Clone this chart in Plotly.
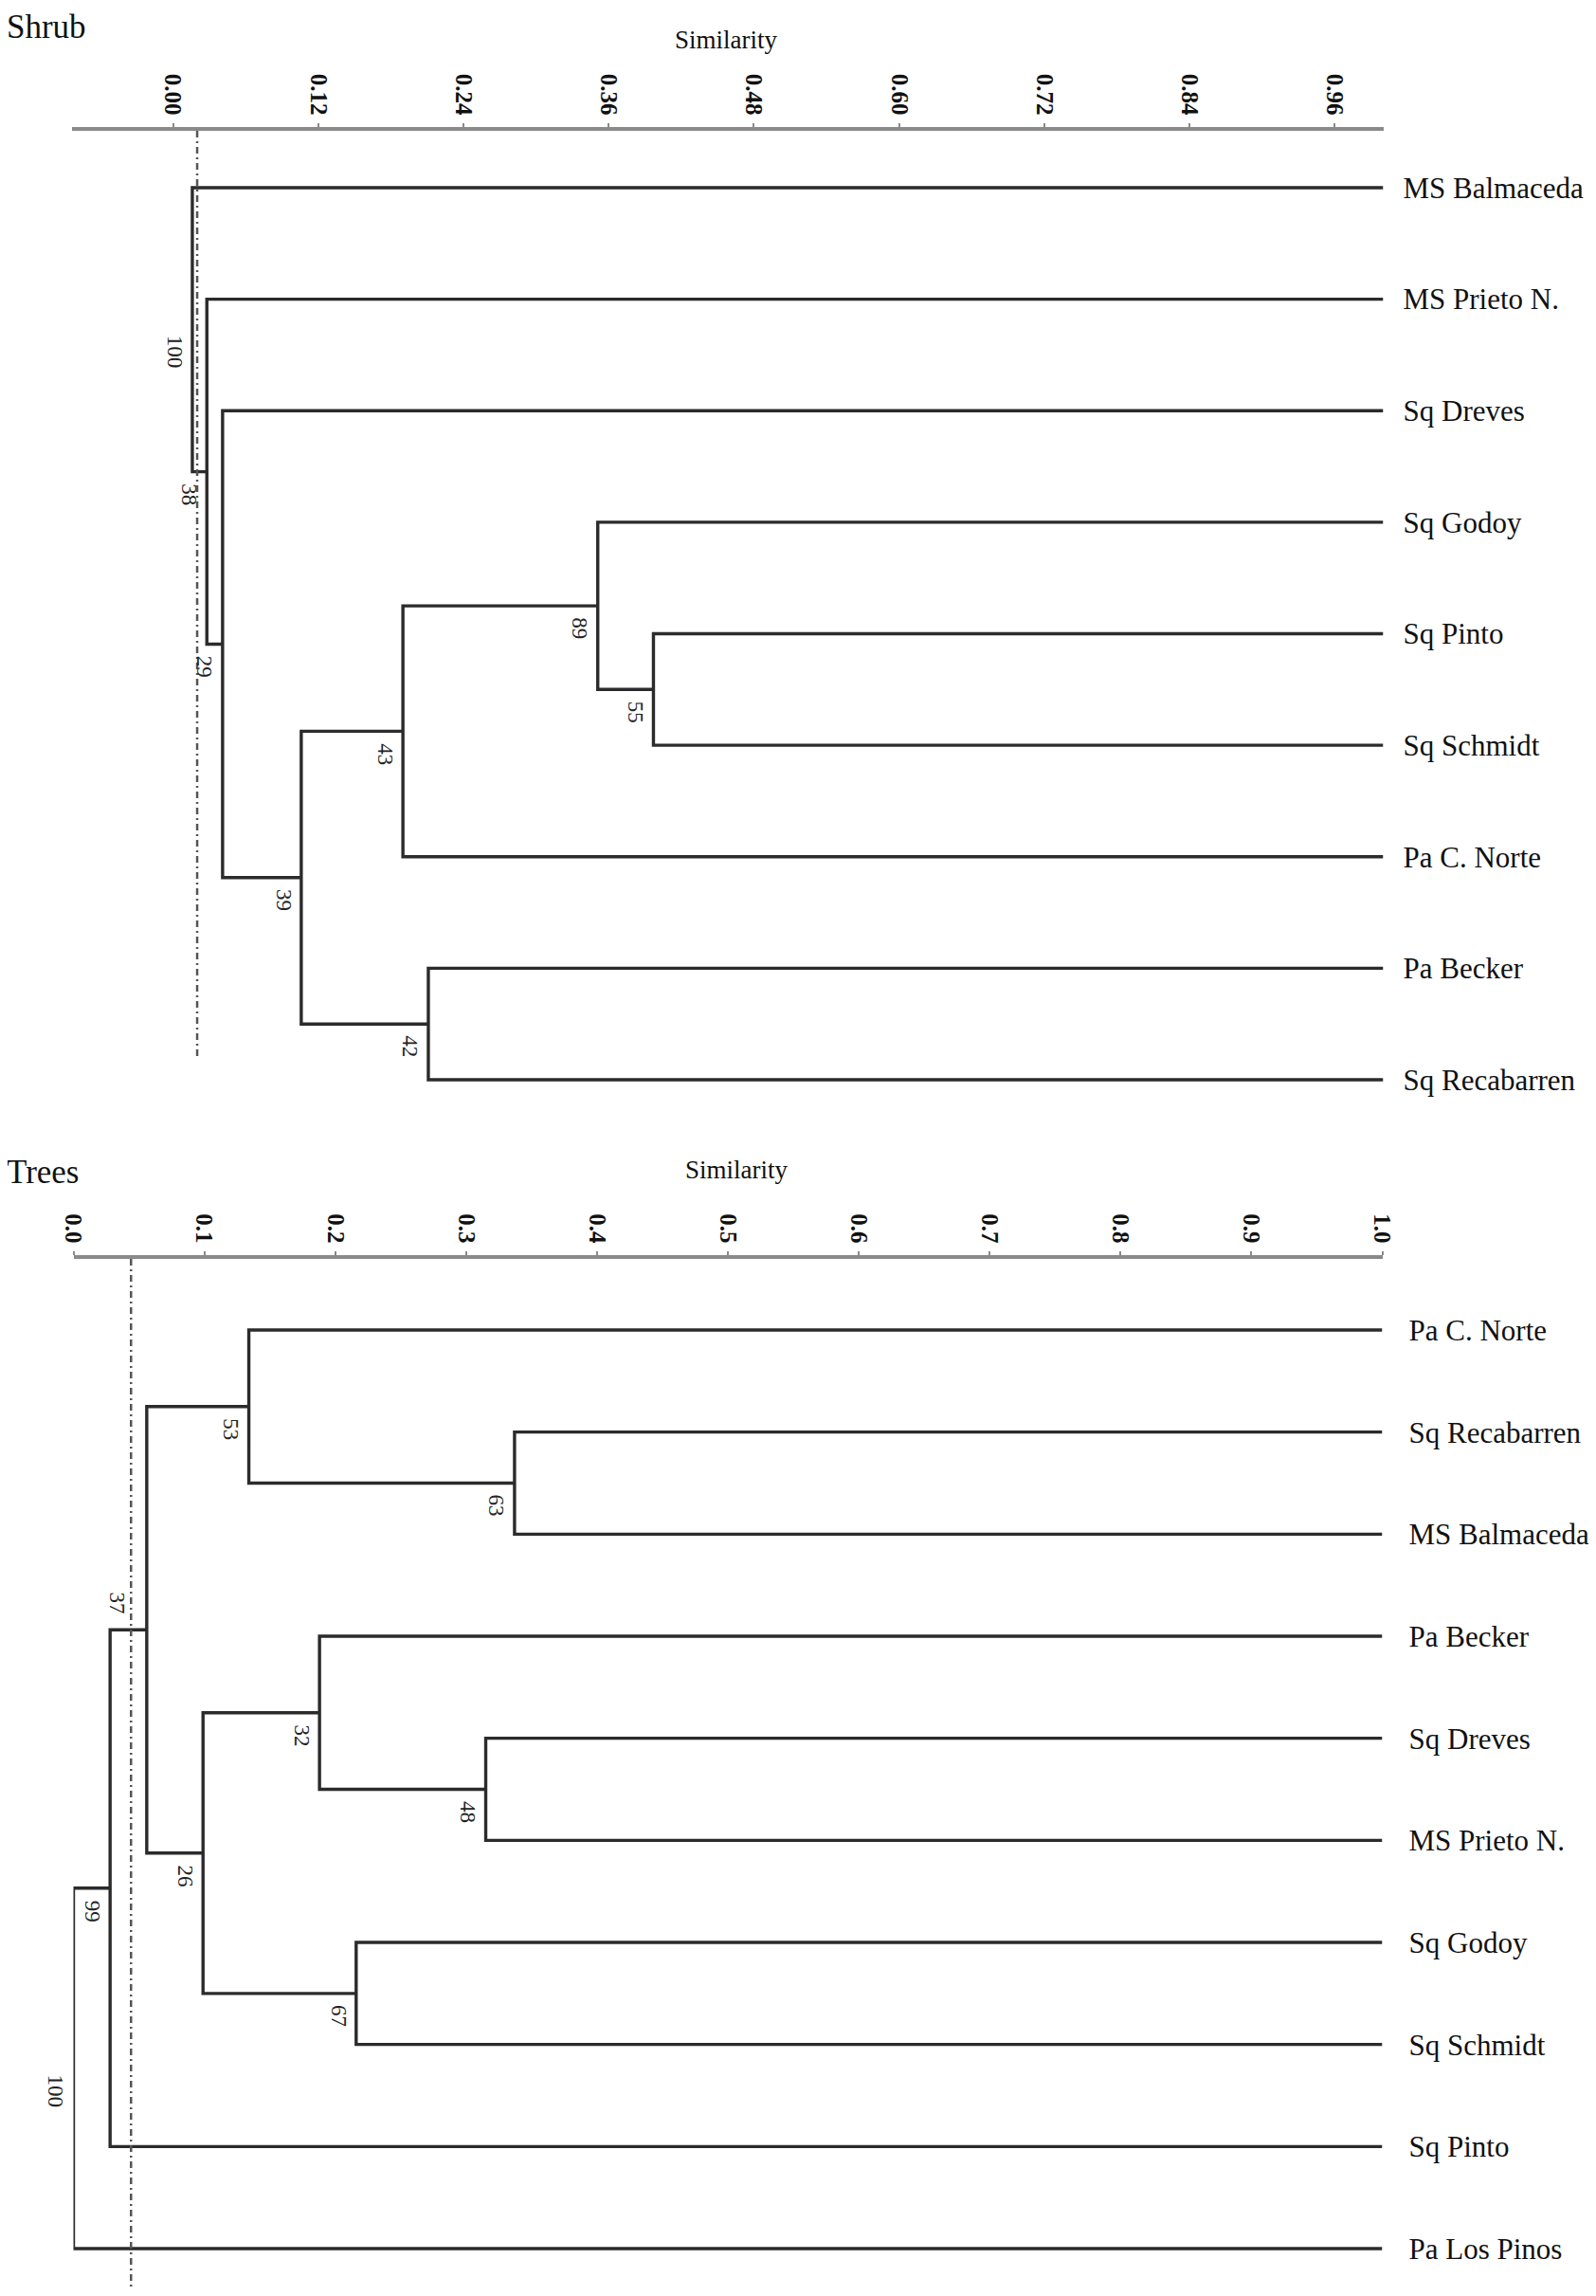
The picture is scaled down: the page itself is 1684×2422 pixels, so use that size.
import plotly.graph_objects as go

# ---------------- Shrub dendrogram data ----------------
shrub_leaves = ["MS Balmaceda", "MS Prieto N.", "Sq Dreves", "Sq Godoy", "Sq Pinto",
                "Sq Schmidt", "Pa C. Norte", "Pa Becker", "Sq Recabarren"]
shrub_nodes = ["n55", "n89", "n43", "n42", "n39", "n29", "n38", "n100"]
shrub_left = ["Sq Pinto", "Sq Godoy", "n89", "Pa Becker", "n43", "Sq Dreves", "MS Prieto N.", "MS Balmaceda"]
shrub_right = ["Sq Schmidt", "n55", "Pa C. Norte", "Sq Recabarren", "n42", "n39", "n29", "n38"]
shrub_similarity = [0.397, 0.351, 0.190, 0.211, 0.106, 0.041, 0.028, 0.016]
shrub_bootstrap = ["55", "89", "43", "42", "39", "29", "38", "100"]
shrub_cut = 0.020
shrub_tickvals = [0.00, 0.12, 0.24, 0.36, 0.48, 0.60, 0.72, 0.84, 0.96]
shrub_ticktext = ["0.00", "0.12", "0.24", "0.36", "0.48", "0.60", "0.72", "0.84", "0.96"]

# ---------------- Trees dendrogram data ----------------
trees_leaves = ["Pa C. Norte", "Sq Recabarren", "MS Balmaceda", "Pa Becker", "Sq Dreves",
                "MS Prieto N.", "Sq Godoy", "Sq Schmidt", "Sq Pinto", "Pa Los Pinos"]
trees_nodes = ["n63", "n53", "n48", "n32", "n67", "n26", "n37", "n99", "n100"]
trees_left = ["Sq Recabarren", "Pa C. Norte", "Sq Dreves", "Pa Becker", "Sq Godoy", "n32", "n53", "n37", "n99"]
trees_right = ["MS Balmaceda", "n63", "MS Prieto N.", "n48", "Sq Schmidt", "n67", "n26", "Sq Pinto", "Pa Los Pinos"]
trees_similarity = [0.337, 0.134, 0.315, 0.188, 0.216, 0.099, 0.056, 0.028, 0.0]
trees_bootstrap = ["63", "53", "48", "32", "67", "26", "37", "99", "100"]
trees_cut = 0.044
trees_tickvals = [0.0, 0.1, 0.2, 0.3, 0.4, 0.5, 0.6, 0.7, 0.8, 0.9, 1.0]
trees_ticktext = ["0.0", "0.1", "0.2", "0.3", "0.4", "0.5", "0.6", "0.7", "0.8", "0.9", "1.0"]

PAGE_W, PAGE_H = 1684, 2422
OFF = 8  # default body margin of the html page
W, H = PAGE_W - 2 * OFF, PAGE_H - 2 * OFF
FONT = "Liberation Serif"
LINE_COL = "#2b2b2b"
AXIS_COL = "#8a8a8a"


def build(leaves, nodes, left, right, sim):
    pos = {name: (1.0, i + 1) for i, name in enumerate(leaves)}
    xs, ys = [], []
    for nid, a, b, s in zip(nodes, left, right, sim):
        ax, ay = pos[a]
        bx, by = pos[b]
        xs += [ax, s, s, bx, None]
        ys += [ay, ay, by, by, None]
        pos[nid] = (s, (ay + by) / 2)
    return xs, ys, pos


def px_x(p):  # page pixel -> paper fraction
    return (p - OFF) / W


def px_y(p):
    return 1 - (p - OFF) / H


fig = go.Figure()

panels = [
    dict(leaves=shrub_leaves, nodes=shrub_nodes, left=shrub_left, right=shrub_right,
         sim=shrub_similarity, boot=shrub_bootstrap, cut=shrub_cut,
         tv=shrub_tickvals, tt=shrub_ticktext,
         x0=76, x1=1459.5, xr=[-0.0834, 1.0], top=138, bottom=1180,
         yr=[9.3486, 0.4898], cut_end=8.80, standoff=0, leaf_off=20,
         title="Shrub", title_y=29, sim_x=766, sim_y=42),
    dict(leaves=trees_leaves, nodes=trees_nodes, left=trees_left, right=trees_right,
         sim=trees_similarity, boot=trees_bootstrap, cut=trees_cut,
         tv=trees_tickvals, tt=trees_ticktext,
         x0=77.5, x1=1458.5, xr=[0.0, 1.0], top=1328, bottom=PAGE_H - OFF,
         yr=[10.39, 0.3034], cut_end=10.39, standoff=0, leaf_off=27,
         title="Trees", title_y=1236, sim_x=777, sim_y=1234),
]

annotations = []
for k, p in enumerate(panels):
    sfx = "" if k == 0 else str(k + 1)
    xs, ys, pos = build(p["leaves"], p["nodes"], p["left"], p["right"], p["sim"])
    fig.add_trace(go.Scatter(x=xs, y=ys, mode="lines",
                             line=dict(color=LINE_COL, width=3.4),
                             xaxis="x" + sfx, yaxis="y" + sfx,
                             hoverinfo="skip", showlegend=False))
    # cut line (dash-dot)
    fig.add_trace(go.Scatter(x=[p["cut"], p["cut"]], y=[p["yr"][1], p["cut_end"]],
                             mode="lines",
                             line=dict(color="#555555", width=2.5, dash="7px,4px,2px,4px"),
                             xaxis="x" + sfx, yaxis="y" + sfx,
                             hoverinfo="skip", showlegend=False))
    # bootstrap labels
    for nid, b in zip(p["nodes"], p["boot"]):
        nx, ny = pos[nid]
        xsh, ysh = -19, -24
        if k == 1 and b == "37":
            xsh, ysh = -31, 28
        annotations.append(dict(x=nx, y=ny, xref="x" + sfx, yref="y" + sfx,
                                text=b, showarrow=False, textangle=90,
                                xanchor="center", yanchor="middle",
                                xshift=xsh, yshift=ysh,
                                font=dict(family=FONT, size=23, color="#222222")))
    fig.layout["xaxis" + sfx] = dict(
        domain=[px_x(p["x0"]), px_x(p["x1"])], range=p["xr"], side="top",
        anchor="y" + sfx, tickvals=p["tv"], ticktext=p["tt"], tickangle=90,
        ticks="outside", ticklen=4, tickwidth=1.5, tickcolor=AXIS_COL,
        ticklabelstandoff=p["standoff"], automargin=False,
        showline=True, linecolor=AXIS_COL, linewidth=3.5, mirror=False,
        showgrid=False, zeroline=False,
        tickfont=dict(family=FONT, size=25, color="#111111", weight="bold"),
        fixedrange=True)
    fig.layout["yaxis" + sfx] = dict(
        domain=[max(0.0, px_y(p["bottom"])), px_y(p["top"])], range=p["yr"], side="right",
        anchor="x" + sfx, tickvals=list(range(1, len(p["leaves"]) + 1)),
        ticktext=p["leaves"], ticks="", ticklabelstandoff=p["leaf_off"],
        automargin=False,
        showline=False, showgrid=False, zeroline=False,
        tickfont=dict(family=FONT, size=31, color="#111111"), fixedrange=True)
    annotations.append(dict(x=px_x(5), y=px_y(p["title_y"]), xref="paper", yref="paper",
                            text=p["title"], showarrow=False, xanchor="left", yanchor="middle",
                            font=dict(family=FONT, size=35, color="#111111")))
    annotations.append(dict(x=px_x(p["sim_x"]), y=px_y(p["sim_y"]), xref="paper", yref="paper",
                            text="Similarity", showarrow=False, xanchor="center", yanchor="middle",
                            font=dict(family=FONT, size=27, color="#111111")))

fig.update_layout(width=W, height=H,
                  margin=dict(l=0, r=0, t=0, b=0, pad=0, autoexpand=False),
                  paper_bgcolor="white", plot_bgcolor="white",
                  annotations=annotations, showlegend=False)

fig.write_html("out.html")
